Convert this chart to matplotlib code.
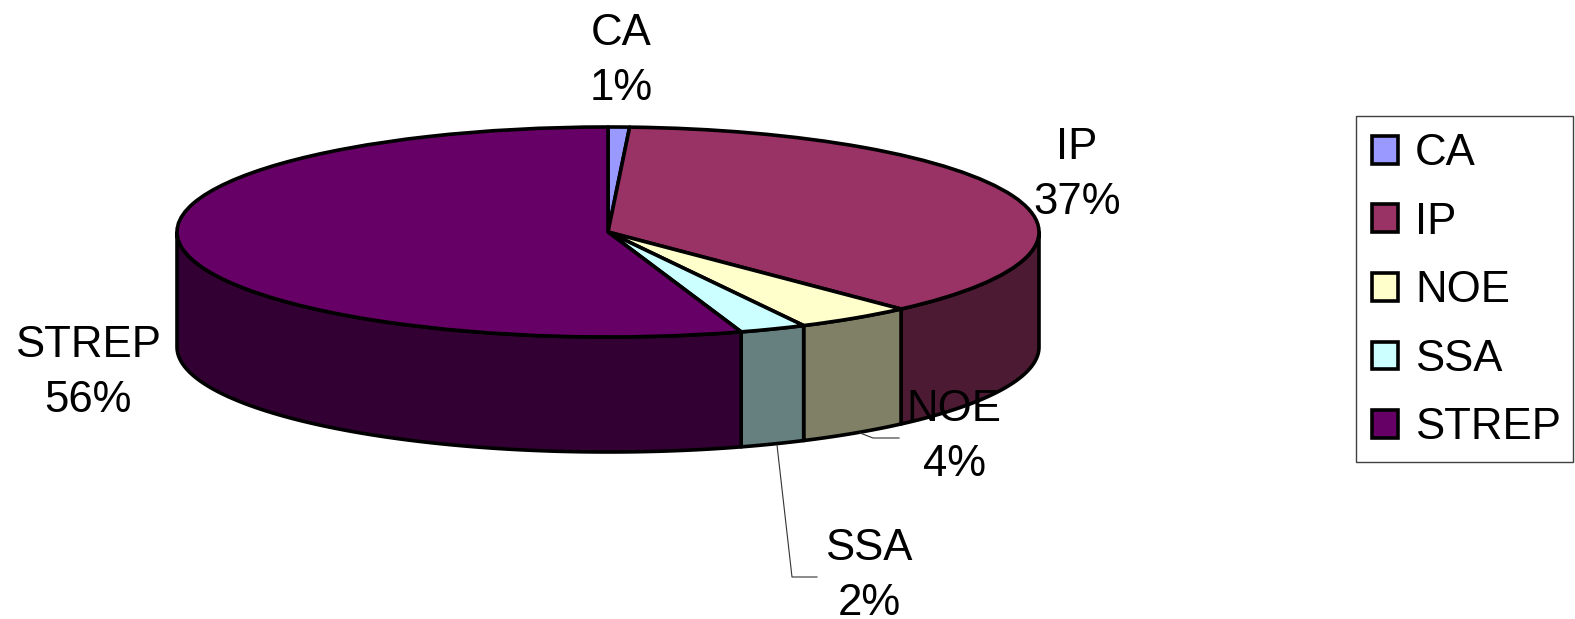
"""3D style pie chart of project types, drawn with a plain pie plus side walls."""
import numpy as np
import matplotlib

matplotlib.use("Agg")
import matplotlib.pyplot as plt
from matplotlib.patches import Polygon, Rectangle

plt.rcParams["font.family"] = ["Liberation Sans", "DejaVu Sans"]

W, H = 1575, 619

categories = ["CA", "IP", "NOE", "SSA", "STREP"]
shares = [0.8, 37.3, 4.4, 2.5, 55.0]
# percentages as printed on the chart
printed = ["1%", "37%", "4%", "2%", "56%"]
colors = ["#9999FF", "#993366", "#FFFFCC", "#CCFFFF", "#660066"]
wall_colors = ["#4C4C80", "#4C1A33", "#808066", "#668080", "#330033"]

# ellipse of the top face and wall depth, in pixels
CX, CY, RX, RY = 608, 232, 431, 105
DEPTH = 115
LW = 2.6


def px(x, y):
    return x / W, 1 - y / H


fig = plt.figure(figsize=(W / 100, H / 100), dpi=100)
ax = fig.add_axes([(CX - RX) / W, 1 - (CY + RY) / H, 2 * RX / W, 2 * RY / H])

wedges, _ = ax.pie(
    shares, colors=colors, startangle=90, counterclock=False,
    wedgeprops={"edgecolor": "black", "linewidth": LW, "clip_on": False, "joinstyle": "round", "zorder": 3},
)
ax.set_aspect("auto")
ax.set_xlim(-1, 1)
ax.set_ylim(-1, 1)

# side walls: only the front half of the disc is visible
edges = np.cumsum([0] + shares) / sum(shares)
depth = 2 * DEPTH / (2 * RY)
for i, color in enumerate(wall_colors):
    start, end = max(edges[i], 0.25), min(edges[i + 1], 0.75)
    if end <= start:
        continue
    t = 2 * np.pi * np.linspace(start, end, 120)
    xs, ys = np.sin(t), np.cos(t)
    pts = np.r_[np.c_[xs, ys], np.c_[xs[::-1], ys[::-1] - depth]]
    ax.add_patch(Polygon(pts, closed=True, facecolor=color, edgecolor="black",
                         linewidth=LW, clip_on=False, zorder=2, joinstyle="round"))

# data labels
label_pos = {"CA": (621, 61), "IP": (1077, 175), "NOE": (954, 437), "SSA": (869, 576), "STREP": (88, 373)}
for name, pct in zip(categories, printed):
    x, y = px(*label_pos[name])
    fig.text(x, y, f"{name}\n{pct}", ha="center", va="center", fontsize=31.5, linespacing=1.41, zorder=6)

# leader lines
for xs, ys in [((777, 792, 817), (445, 577, 577)), ((860, 873, 899), (433, 438, 438))]:
    fx, fy = zip(*[px(a, b) for a, b in zip(xs, ys)])
    fig.add_artist(plt.Line2D(fx, fy, color="#333333", linewidth=0.8))

# legend frame drawn apart, its right padding is tighter than the left one
x0, y1 = px(1355.5, 116)
x1, y0 = px(1572.5, 462)
fig.add_artist(Rectangle((x0, y0), x1 - x0, y1 - y0, transform=fig.transFigure,
                         facecolor="white", edgecolor="#404040", linewidth=1.0))
fig.legend(
    wedges, categories, loc="upper left", bbox_to_anchor=px(1355.5, 116.5), borderaxespad=0,
    fontsize=31.5, frameon=False, handlelength=0.6, handleheight=0.6, handletextpad=0.38,
    labelspacing=0.63, borderpad=0.38,
)

fig.savefig("out.png", dpi=100)
